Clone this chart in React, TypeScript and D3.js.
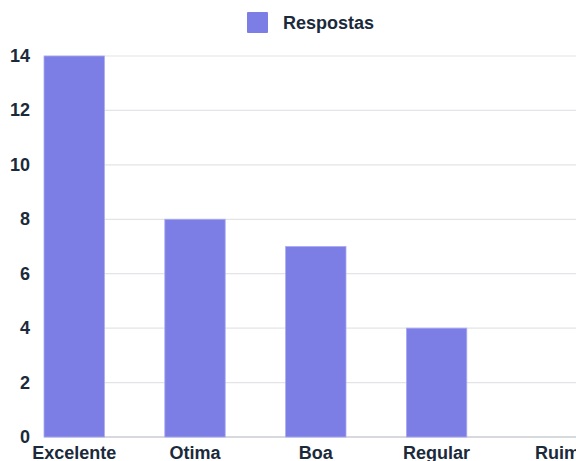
import React from "react";
import * as d3 from "d3";

const categories = ["Excelente", "Otima", "Boa", "Regular", "Ruim"];
const respostas = [14, 8, 7, 4, 0];
const yTicks = [0, 2, 4, 6, 8, 10, 12, 14];
const seriesName = "Respostas";

const width = 576;
const height = 461;
const margin = { top: 56, left: 44, bottom: 24 };
const textColor = "#1b2a3b";
const barColor = "#7c7ee6";
const font = "Liberation Sans, Arial, sans-serif";
const fs = 18;

const App = () => {
  const step = 120.8;
  const x = d3
    .scaleBand()
    .domain(categories)
    .range([margin.left, margin.left + step * 4.5])
    .paddingInner(0.5)
    .paddingOuter(0);

  const y = d3
    .scaleLinear()
    .domain([0, 14])
    .range([height - margin.bottom, margin.top]);

  return (
    <svg
      width={width}
      height={height}
      style={{ position: "absolute", left: 0, top: 0, background: "#fff" }}
    >
      {/* legend */}
      <rect x={247} y={12} width={21} height={21} fill={barColor} rx={1} />
      <text
        x={283}
        y={29}
        fontFamily={font}
        fontWeight="bold"
        fontSize={fs}
        fill={textColor}
      >
        {seriesName}
      </text>

      {/* grid */}
      {yTicks.map((t) => (
        <line
          key={t}
          x1={margin.left}
          x2={width}
          y1={y(t)}
          y2={y(t)}
          stroke={t === 0 ? "#c9ced4" : "#e2e4e7"}
          strokeWidth={t === 0 ? 1.5 : 1.2}
        />
      ))}
      {yTicks.map((t) => (
        <text
          key={"l" + t}
          x={30}
          y={y(t) + 6}
          textAnchor="end"
          fontFamily={font}
          fontWeight="bold"
          fontSize={fs}
          fill={textColor}
        >
          {t}
        </text>
      ))}

      {/* bars */}
      {categories.map((c, i) => (
        <rect
          key={c}
          x={x(c)}
          y={y(respostas[i])}
          width={x.bandwidth()}
          height={y(0) - y(respostas[i])}
          fill={barColor}
          stroke="#a9abf0"
          strokeWidth={respostas[i] > 0 ? 0.8 : 0}
        />
      ))}

      {/* x labels */}
      {categories.map((c) => (
        <text
          key={"x" + c}
          x={(x(c) as number) + x.bandwidth() / 2}
          y={459}
          textAnchor="middle"
          fontFamily={font}
          fontWeight="bold"
          fontSize={fs}
          fill={textColor}
        >
          {c}
        </text>
      ))}
    </svg>
  );
};

export default App;
